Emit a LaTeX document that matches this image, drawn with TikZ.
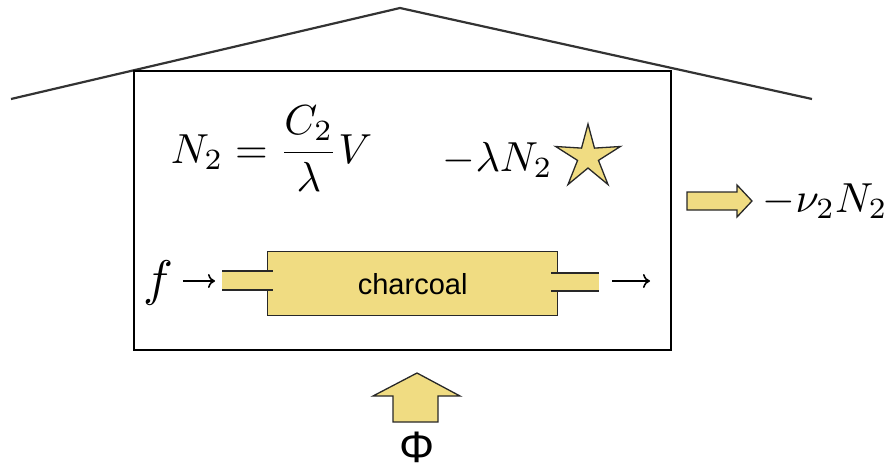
\documentclass[tikz,border=0pt]{standalone}
\usepackage{fontspec}
\newfontfamily\arialfont{Liberation Sans}
\usetikzlibrary{arrows.meta}
\definecolor{khaki}{RGB}{240,220,130}
\definecolor{edge}{RGB}{40,40,40}
\begin{document}
\begin{tikzpicture}[x=1pt,y=-1pt]
\useasboundingbox (0,0) rectangle (889,471);
\tikzset{
  yel/.style={fill=khaki, draw=edge, line width=1.3pt, line join=miter},
  mtxt/.style={inner sep=0pt, scale=4.2, transform shape},
  pipeline/.style={draw=edge, line width=1.3pt},
  txtarrow/.style={line width=1.6pt, -{To[length=7pt,width=14pt]}},
}
% roof
\coordinate (roofL) at (11,99);
\coordinate (apex) at (400,8);
\coordinate (roofR) at (812,99);
\draw[line width=2.2pt, draw=black!80] (roofL) -- (apex) -- (roofR);
% house box
\node[draw, line width=1.5pt, minimum width=537pt, minimum height=279pt, anchor=north west, inner sep=0pt] (house) at (133,70) {};
% formulas
\node[mtxt, anchor=base west] (eqn) at (170,163) {$\displaystyle N_2=\frac{C_2}{\lambda}V$};
\node[mtxt, anchor=base west] (decay) at (442,171) {$-\lambda N_2$};
% star
\coordinate (sc) at (588,157);
\draw[yel] ([shift={(-90:33)}]sc) -- ([shift={(-54:11)}]sc) -- ([shift={(-18:34)}]sc) -- ([shift={(18:11)}]sc) -- ([shift={(54:34)}]sc) -- ([shift={(90:11)}]sc) -- ([shift={(126:34)}]sc) -- ([shift={(162:11)}]sc) -- ([shift={(198:34)}]sc) -- ([shift={(234:11)}]sc) -- cycle;
% outflow block arrow
\coordinate (ra) at (687,201);
\draw[yel] ([shift={(0,-9)}]ra) -- ([shift={(50,-9)}]ra) -- ([shift={(50,-16)}]ra) -- ([shift={(65,0)}]ra) -- ([shift={(50,16)}]ra) -- ([shift={(50,9)}]ra) -- ([shift={(0,9)}]ra) -- cycle;
\node[mtxt, anchor=base west] (loss) at (762,212) {$-\nu_2N_2$};
% charcoal filter
\node[yel, minimum width=290pt, minimum height=64pt, anchor=north west, inner sep=0pt, font=\arialfont\fontsize{29}{32}\selectfont] (charcoal) at (267,251) {charcoal};
\coordinate (pipeL) at (222,281);
\coordinate (pipeR) at (599,282);
\fill[khaki] (222,271) rectangle (268,290);
\draw[pipeline] (222,271) -- (273,271) (222,290) -- (273,290);
\fill[khaki] (556,273) rectangle (599,291);
\draw[pipeline] (551,273) -- (599,273) (551,291) -- (599,291);
% flow arrows
\node[inner sep=0pt, scale=5, transform shape, anchor=base] (f) at (158,295) {$f$};
\coordinate (out) at (650,281);
\draw[txtarrow] ([xshift=9pt]f.east |- pipeL) -- ([xshift=-7pt]pipeL);
\draw[txtarrow] ([xshift=13pt]pipeR |- out) -- (out);
% heat input arrow
\coordinate (ua) at (417,373);
\draw[yel] (ua) -- ([shift={(43,23)}]ua) -- ([shift={(21,23)}]ua) -- ([shift={(21,49)}]ua) -- ([shift={(-24,49)}]ua) -- ([shift={(-24,23)}]ua) -- ([shift={(-44,23)}]ua) -- cycle;
\node[inner sep=0pt, font=\arialfont\fontsize{44}{50}\selectfont] (phi) at (417,447) {Φ};
\end{tikzpicture}
\end{document}
